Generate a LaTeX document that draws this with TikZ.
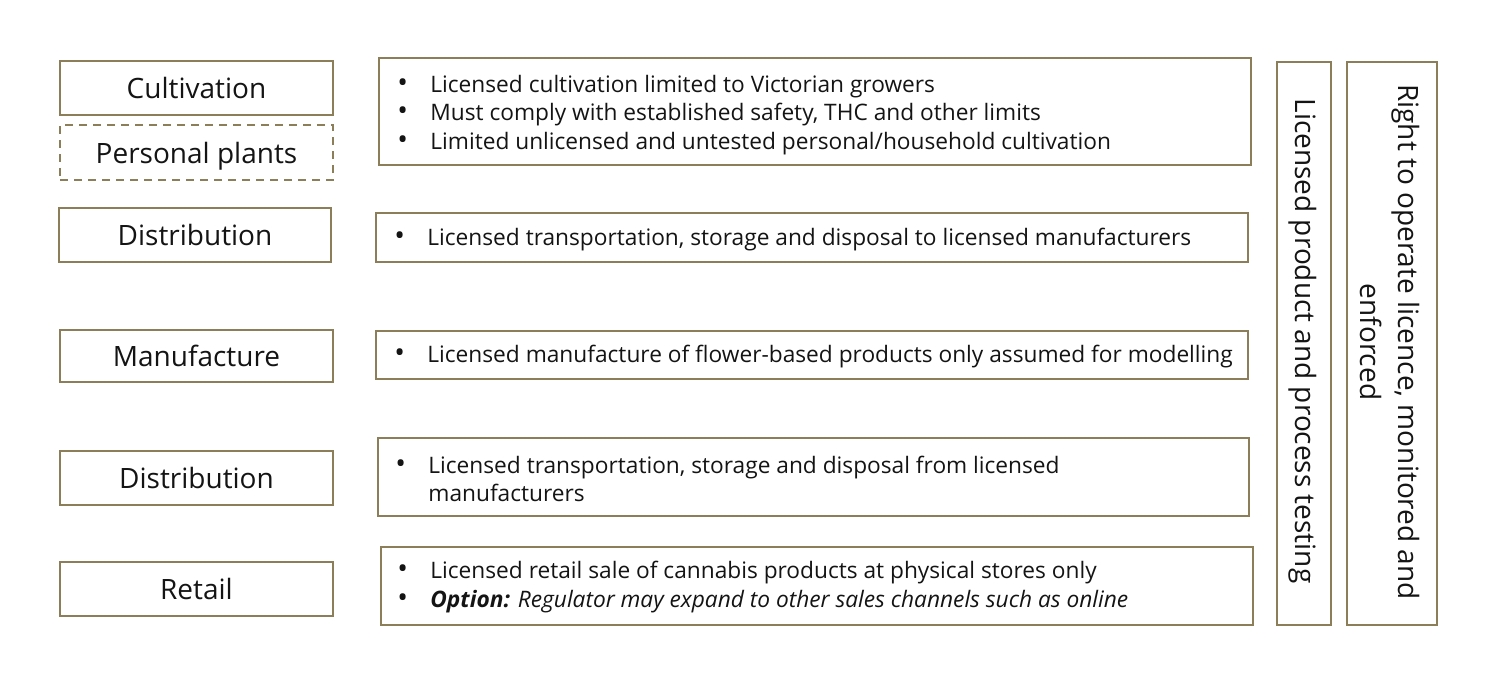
\documentclass[tikz,border=0pt]{standalone}
\usepackage{fontspec}
\setmainfont{Open Sans}
\definecolor{bord}{RGB}{140,126,88}
\definecolor{txt}{RGB}{20,20,20}
\newcommand{\bul}{\makebox[16.5pt][l]{\scalebox{1.25}{\textbullet}}}
\begin{document}
\begin{tikzpicture}[x=0.5pt,y=-0.5pt,
  lbox/.style={draw=bord,line width=1pt,minimum width=136.5pt,minimum height=27pt,inner sep=0pt,text=txt,font=\fontsize{14}{16}\selectfont},
  mbox/.style={draw=bord,line width=1pt,inner sep=0pt},
  btext/.style={anchor=west,inner sep=0pt,text=txt,align=left,font=\fontsize{11.35}{14.25}\selectfont},
  vtext/.style={rotate=-90,inner sep=0pt,text=txt,align=center,font=\fontsize{14}{19}\selectfont}]
\useasboundingbox (0,0) rectangle (1500,680);
% left column
\node[lbox] (cult) at (196.5,88) {Cultivation};
\node[lbox,dashed,dash pattern=on 4pt off 3pt,minimum height=27.5pt] (pers) at (196.5,152.5) {\raisebox{-2pt}[\height][\depth]{Personal plants}};
\node[lbox,minimum width=136pt] (dist1) at (195,235) {Distribution};
\node[lbox,minimum height=26pt] (manu) at (196.5,356) {Manufacture};
\node[lbox] (dist2) at (196.5,478) {Distribution};
\node[lbox] (ret) at (196.5,589) {Retail};
% middle column
\node[mbox,minimum width=436pt,minimum height=53.5pt] (b1) at (815,111.5) {};
\node[btext] (t1) at (397,115) {\bul Licensed cultivation limited to Victorian growers\\ \bul Must comply with established safety, THC and other limits\\ \bul Limited unlicensed and untested personal/household cultivation};
\node[mbox,minimum width=436pt,minimum height=24.5pt] (b2) at (812,237.5) {};
\node[btext] (t2) at (394,240) {\bul Licensed transportation, storage and disposal to licensed manufacturers};
\node[mbox,minimum width=436pt,minimum height=24pt] (b3) at (812,355) {};
\node[btext] (t3) at (394,357) {\bul Licensed manufacture of flower-based products only assumed for modelling};
\node[mbox,minimum width=435.5pt,minimum height=39pt] (b4) at (813.5,477) {};
\node[btext] (t4) at (395,479) {\bul Licensed transportation, storage and disposal from licensed\\ \hspace*{16.5pt}manufacturers};
\node[mbox,minimum width=436pt,minimum height=39pt] (b5) at (817,586) {};
\node[btext] (t5) at (397,587) {\bul Licensed retail sale of cannabis products at physical stores only\\ \bul \textit{\textbf{Option:} Regulator may expand to other sales channels such as online}};
% right columns
\node[mbox,minimum width=27pt,minimum height=281.5pt] (test) at (1304,343.5) {};
\node[vtext] (testt) at (1303,341) {Licensed product and process testing};
\node[mbox,minimum width=45pt,minimum height=281.5pt] (right) at (1392,343.5) {};
\node[vtext] (rightt) at (1390,342) {Right to operate licence, monitored and\\ enforced};
\end{tikzpicture}
\end{document}
